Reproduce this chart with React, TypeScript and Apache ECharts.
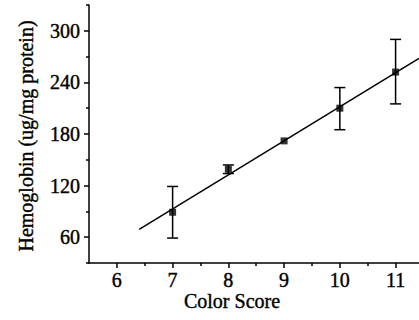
import { useEffect, useRef } from "react";
import * as echarts from "echarts";

// Hemoglobin content per colour score: means with lower/upper error limits
const colorScores = [7, 8, 9, 10, 11];
const hemoglobinMeans = [89, 139, 172, 210, 252];
const hemoglobinLower = [59, 134, 172, 185, 215];
const hemoglobinUpper = [119, 144, 172, 234, 290];

// Linear fit drawn across the plot (start and end points)
const fitLine = [
  [6.4, 69],
  [11.42, 268],
];

// Axis ticks
const xTicks = [6, 7, 8, 9, 10, 11];
const xMinorTicks = [6.5, 7.5, 8.5, 9.5, 10.5];
const yTicks = [60, 120, 180, 240, 300];
const yMinorTicks = [30, 90, 150, 210, 270, 330];

const FONT = '"Liberation Serif", "Times New Roman", serif';
const X_MIN = 5.5;
const X_MAX = 11.42;
const Y_MIN = 30;
const Y_MAX = 330;

// Slightly heavier glyphs for all text
const heavy = { textBorderColor: "#000", textBorderWidth: 0.4 };

export default function App() {
  const ref = useRef<HTMLDivElement>(null);

  useEffect(() => {
    if (!ref.current) return;
    const chart = echarts.init(ref.current, null, { renderer: "svg" });

    const axisLine = { show: true, onZero: false, lineStyle: { color: "#000", width: 1.5 } };

    const option: any = {
      animation: false,
      backgroundColor: "#fff",
      grid: { left: 89, right: 0, top: 5, bottom: 57, containLabel: false },
      xAxis: [
        {
          type: "value",
          min: X_MIN,
          max: X_MAX,
          axisLine,
          splitLine: { show: false },
          axisTick: { show: true, customValues: xTicks, length: 5, lineStyle: { color: "#000", width: 1.5 } },
          axisLabel: {
            customValues: xTicks,
            color: "#000",
            fontFamily: FONT,
            fontSize: 20,
            margin: 7,
            showMinLabel: true,
            showMaxLabel: true,
            ...heavy,
          },
        },
        {
          type: "value",
          position: "bottom",
          min: X_MIN,
          max: X_MAX,
          axisLine: { show: false },
          splitLine: { show: false },
          axisTick: { show: true, customValues: xMinorTicks, length: 3, lineStyle: { color: "#000", width: 1.5 } },
          axisLabel: { show: false },
        },
      ],
      yAxis: [
        {
          type: "value",
          min: Y_MIN,
          max: Y_MAX,
          axisLine,
          splitLine: { show: false },
          axisTick: { show: true, customValues: yTicks, length: 5, lineStyle: { color: "#000", width: 1.5 } },
          axisLabel: {
            customValues: yTicks,
            color: "#000",
            fontFamily: FONT,
            fontSize: 20,
            margin: 9,
            ...heavy,
          },
        },
        {
          type: "value",
          position: "left",
          min: Y_MIN,
          max: Y_MAX,
          axisLine: { show: false },
          splitLine: { show: false },
          axisTick: { show: true, customValues: yMinorTicks, length: 3, lineStyle: { color: "#000", width: 1.5 } },
          axisLabel: { show: false },
        },
      ],
      graphic: [
        {
          type: "text",
          x: 232,
          y: 301,
          style: {
            text: "Color Score",
            font: `20px ${FONT}`,
            fill: "#000",
            stroke: "#000",
            lineWidth: 0.4,
            align: "center",
            verticalAlign: "middle",
          },
        },
        {
          type: "text",
          x: 26,
          y: 136,
          rotation: Math.PI / 2,
          style: {
            text: "Hemoglobin (ug/mg protein)",
            font: `20px ${FONT}`,
            fill: "#000",
            stroke: "#000",
            lineWidth: 0.4,
            align: "center",
            verticalAlign: "middle",
          },
        },
      ],
      series: [
        {
          type: "line",
          data: fitLine,
          showSymbol: false,
          symbol: "none",
          lineStyle: { color: "#000", width: 1.5 },
          z: 2,
        },
        {
          type: "custom",
          data: colorScores.map((x, i) => [x, hemoglobinLower[i], hemoglobinUpper[i]]),
          encode: { x: 0, y: [1, 2] },
          z: 3,
          renderItem: (_params: any, api: any) => {
            const x = api.value(0);
            const lo = api.value(1);
            const hi = api.value(2);
            if (lo === hi) return { type: "group", children: [] };
            const top = api.coord([x, hi]);
            const bot = api.coord([x, lo]);
            const half = 5.5;
            const style = { stroke: "#000", lineWidth: 1.5 };
            return {
              type: "group",
              children: [
                { type: "line", shape: { x1: top[0], y1: top[1], x2: bot[0], y2: bot[1] }, style },
                { type: "line", shape: { x1: top[0] - half, y1: top[1], x2: top[0] + half, y2: top[1] }, style },
                { type: "line", shape: { x1: bot[0] - half, y1: bot[1], x2: bot[0] + half, y2: bot[1] }, style },
              ],
            };
          },
        },
        {
          type: "scatter",
          data: colorScores.map((x, i) => [x, hemoglobinMeans[i]]),
          symbol: "rect",
          symbolSize: 7,
          itemStyle: { color: "#000" },
          z: 4,
        },
      ],
    };

    chart.setOption(option);
    return () => chart.dispose();
  }, []);

  return (
    <div
      ref={ref}
      style={{ position: "fixed", left: 0, top: 0, width: 419, height: 320 }}
    />
  );
}
